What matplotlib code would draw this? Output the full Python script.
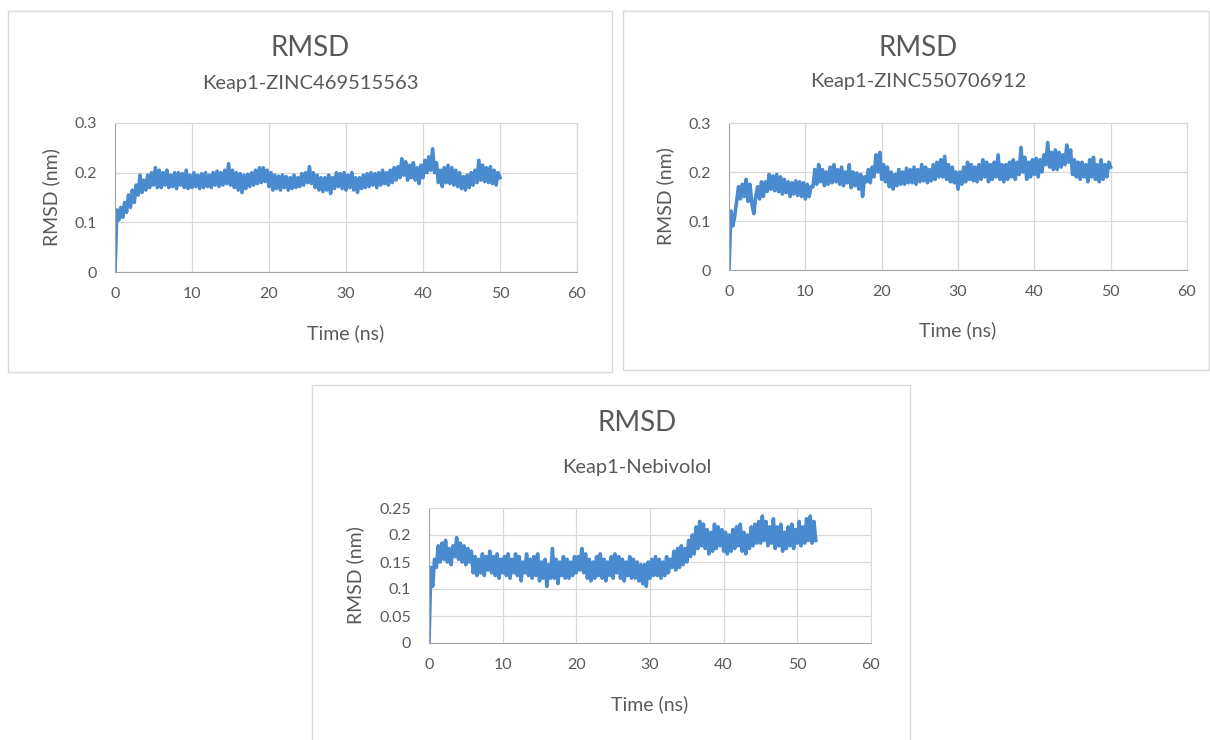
import numpy as np
import matplotlib
matplotlib.use("Agg")
import matplotlib.pyplot as plt
from matplotlib.patches import Rectangle
from matplotlib.ticker import FuncFormatter

# ---------------- DATA ----------------
TIME_STEP = 0.25  # ns between saved frames

titles = ["RMSD", "RMSD", "RMSD"]
subtitles = ["Keap1-ZINC469515563", "Keap1-ZINC550706912", "Keap1-Nebivolol"]

x_ticks = [0, 10, 20, 30, 40, 50, 60]
y_ticks_top = [0, 0.1, 0.2, 0.3]
y_ticks_bottom = [0, 0.05, 0.1, 0.15, 0.2, 0.25]

rmsd_zinc469 = [
    0.0, 0.125, 0.105, 0.13,
    0.11, 0.14, 0.12, 0.155,
    0.13, 0.165, 0.14, 0.175,
    0.155, 0.195, 0.16, 0.185,
    0.165, 0.195, 0.17, 0.2,
    0.175, 0.21, 0.17, 0.205,
    0.17, 0.2, 0.175, 0.205,
    0.17, 0.195, 0.172, 0.2,
    0.168, 0.2, 0.175, 0.198,
    0.17, 0.205, 0.168, 0.195,
    0.17, 0.2, 0.172, 0.195,
    0.168, 0.198, 0.17, 0.2,
    0.172, 0.195, 0.17, 0.2,
    0.175, 0.203, 0.172, 0.2,
    0.175, 0.205, 0.178, 0.218,
    0.175, 0.205, 0.17, 0.2,
    0.165, 0.198, 0.16, 0.195,
    0.168, 0.197, 0.172, 0.2,
    0.175, 0.205, 0.178, 0.21,
    0.18, 0.21, 0.182, 0.205,
    0.172, 0.2, 0.165, 0.195,
    0.168, 0.193, 0.165, 0.195,
    0.17, 0.192, 0.165, 0.19,
    0.168, 0.195, 0.17, 0.19,
    0.172, 0.198, 0.175, 0.2,
    0.18, 0.212, 0.178, 0.2,
    0.17, 0.195, 0.165, 0.19,
    0.162, 0.19, 0.165, 0.195,
    0.158, 0.19, 0.168, 0.2,
    0.172, 0.198, 0.168, 0.2,
    0.165, 0.195, 0.17, 0.2,
    0.165, 0.19, 0.16, 0.19,
    0.168, 0.195, 0.17, 0.198,
    0.172, 0.2, 0.175, 0.198,
    0.17, 0.2, 0.175, 0.205,
    0.178, 0.2, 0.175, 0.205,
    0.18, 0.21, 0.185, 0.212,
    0.19, 0.228, 0.195, 0.222,
    0.185, 0.215, 0.19, 0.22,
    0.185, 0.21, 0.178, 0.215,
    0.19, 0.225, 0.2, 0.232,
    0.205, 0.248, 0.2, 0.22,
    0.18, 0.205, 0.172, 0.21,
    0.18, 0.215, 0.178, 0.21,
    0.175, 0.205, 0.172, 0.2,
    0.168, 0.192, 0.165, 0.195,
    0.17, 0.2, 0.175, 0.205,
    0.18, 0.225, 0.185, 0.215,
    0.182, 0.21, 0.18, 0.212,
    0.178, 0.205, 0.175, 0.2,
    0.19,
]

rmsd_zinc550 = [
    0.0, 0.12, 0.09, 0.11,
    0.14, 0.17, 0.145, 0.175,
    0.15, 0.185, 0.14, 0.175,
    0.135, 0.115, 0.15, 0.17,
    0.145, 0.18, 0.15, 0.18,
    0.16, 0.195, 0.165, 0.192,
    0.162, 0.195, 0.16, 0.19,
    0.155, 0.185, 0.158, 0.18,
    0.15, 0.178, 0.155, 0.182,
    0.152, 0.18, 0.15, 0.178,
    0.145, 0.175, 0.15, 0.17,
    0.17, 0.205, 0.175, 0.215,
    0.18, 0.205, 0.172, 0.2,
    0.175, 0.21, 0.178, 0.215,
    0.18, 0.205, 0.175, 0.21,
    0.172, 0.2, 0.178, 0.215,
    0.168, 0.2, 0.172, 0.198,
    0.165, 0.195, 0.15, 0.19,
    0.18, 0.205, 0.178, 0.21,
    0.19, 0.235, 0.2, 0.24,
    0.185, 0.215, 0.18, 0.21,
    0.17, 0.2, 0.165, 0.195,
    0.172, 0.205, 0.175, 0.2,
    0.175, 0.208, 0.178, 0.205,
    0.178, 0.21, 0.175, 0.205,
    0.18, 0.215, 0.182, 0.21,
    0.178, 0.205, 0.182, 0.215,
    0.185, 0.22, 0.19, 0.225,
    0.19, 0.232, 0.185, 0.215,
    0.18, 0.21, 0.178, 0.2,
    0.165, 0.2, 0.175, 0.21,
    0.18, 0.22, 0.185, 0.215,
    0.182, 0.21, 0.18, 0.215,
    0.185, 0.225, 0.19, 0.22,
    0.18, 0.215, 0.185, 0.22,
    0.19, 0.235, 0.185, 0.215,
    0.18, 0.215, 0.185, 0.22,
    0.19, 0.225, 0.185, 0.22,
    0.195, 0.25, 0.2, 0.23,
    0.185, 0.22, 0.19, 0.225,
    0.195, 0.228, 0.19, 0.225,
    0.2, 0.235, 0.215, 0.26,
    0.21, 0.24, 0.205, 0.245,
    0.205, 0.24, 0.21, 0.235,
    0.215, 0.255, 0.22, 0.245,
    0.195, 0.225, 0.19, 0.22,
    0.185, 0.22, 0.19, 0.215,
    0.18, 0.225, 0.19, 0.23,
    0.185, 0.215, 0.18, 0.225,
    0.185, 0.215, 0.19, 0.22,
    0.21,
]

rmsd_nebivolol = [
    0.0, 0.14, 0.105, 0.155,
    0.14, 0.18, 0.15, 0.185,
    0.155, 0.19, 0.15, 0.175,
    0.145, 0.18, 0.16, 0.195,
    0.155, 0.185, 0.15, 0.18,
    0.145, 0.175, 0.15, 0.17,
    0.13, 0.16, 0.125, 0.155,
    0.13, 0.165, 0.125, 0.16,
    0.135, 0.17, 0.13, 0.16,
    0.125, 0.165, 0.12, 0.155,
    0.13, 0.16, 0.125, 0.165,
    0.12, 0.155, 0.13, 0.165,
    0.125, 0.16, 0.115, 0.15,
    0.13, 0.165, 0.125, 0.155,
    0.12, 0.16, 0.125, 0.165,
    0.115, 0.15, 0.12, 0.155,
    0.105, 0.145, 0.12, 0.175,
    0.12, 0.155, 0.11, 0.15,
    0.125, 0.16, 0.12, 0.155,
    0.12, 0.15, 0.125, 0.16,
    0.13, 0.16, 0.135, 0.175,
    0.13, 0.165, 0.12, 0.155,
    0.115, 0.15, 0.12, 0.16,
    0.125, 0.165, 0.12, 0.155,
    0.115, 0.15, 0.125, 0.16,
    0.12, 0.165, 0.13, 0.16,
    0.12, 0.155, 0.115, 0.15,
    0.125, 0.16, 0.12, 0.155,
    0.12, 0.15, 0.115, 0.145,
    0.11, 0.145, 0.105, 0.15,
    0.12, 0.155, 0.125, 0.16,
    0.125, 0.155, 0.12, 0.15,
    0.125, 0.16, 0.13, 0.155,
    0.14, 0.17, 0.135, 0.175,
    0.14, 0.18, 0.145, 0.175,
    0.15, 0.19, 0.16, 0.2,
    0.165, 0.215, 0.175, 0.225,
    0.18, 0.22, 0.175, 0.21,
    0.165, 0.205, 0.17, 0.22,
    0.175, 0.215, 0.18, 0.21,
    0.17, 0.205, 0.165, 0.2,
    0.17, 0.21, 0.175, 0.215,
    0.18, 0.22, 0.17, 0.205,
    0.165, 0.2, 0.175, 0.215,
    0.18, 0.22, 0.185, 0.225,
    0.185, 0.235, 0.19, 0.225,
    0.18, 0.215, 0.185, 0.23,
    0.175, 0.215, 0.18, 0.22,
    0.17, 0.205, 0.175, 0.215,
    0.18, 0.22, 0.175, 0.21,
    0.185, 0.225, 0.18, 0.215,
    0.185, 0.23, 0.19, 0.235,
    0.185, 0.225, 0.19,
]
# --------------------------------------

W, H = 1210, 740
LINE_COLOR = "#4A8BD0"
TEXT_COLOR = "#595959"
plt.rcParams["font.family"] = ["Lato", "DejaVu Sans"]

fig = plt.figure(figsize=(W / 100, H / 100), dpi=100)
fig.patch.set_facecolor("white")


def fx(x):
    return x / W


def fy(y):
    return 1 - y / H


def panel(box, axes_px, title_xy, sub_xy, xlabel_xy, ylabel_xy,
          values, yticks, title, subtitle):
    # chart area border
    bx0, by0, bx1, by1 = box
    fig.add_artist(Rectangle((fx(bx0), fy(by1)), fx(bx1 - bx0), (by1 - by0) / H,
                             transform=fig.transFigure, fill=False,
                             edgecolor="#d9d9d9", linewidth=1.0))
    l, t, r, b = axes_px
    ax = fig.add_axes([fx(l), fy(b), fx(r - l), (b - t) / H])
    t_vals = np.arange(len(values)) * TIME_STEP
    ax.plot(t_vals, values, color=LINE_COLOR, linewidth=2.6, solid_joinstyle="round")
    ax.set_xlim(0, 60)
    ax.set_ylim(yticks[0], yticks[-1])
    ax.set_xticks(x_ticks)
    ax.set_yticks(yticks)
    ax.yaxis.set_major_formatter(FuncFormatter(lambda v, p: f"{v:g}"))
    ax.grid(True, color="#d9d9d9", linewidth=0.9)
    ax.set_axisbelow(True)
    for side in ["top", "right"]:
        ax.spines[side].set_color("#d9d9d9")
    for side in ["left", "bottom"]:
        ax.spines[side].set_color("#a6a6a6")
    ax.tick_params(length=0, labelsize=11.5, colors=TEXT_COLOR)
    ax.tick_params(axis="y", pad=13)
    ax.tick_params(axis="x", pad=11)
    fig.text(fx(title_xy[0]), fy(title_xy[1]), title, ha="center", va="center",
             fontsize=20, color=TEXT_COLOR)
    fig.text(fx(sub_xy[0]), fy(sub_xy[1]), subtitle, ha="center", va="center",
             fontsize=14.5, color=TEXT_COLOR)
    fig.text(fx(xlabel_xy[0]), fy(xlabel_xy[1]), "Time (ns)", ha="center", va="center",
             fontsize=14, color=TEXT_COLOR)
    fig.text(fx(ylabel_xy[0]), fy(ylabel_xy[1]), "RMSD (nm)", ha="center", va="center",
             fontsize=14, color=TEXT_COLOR, rotation=90)
    return ax


panel((8, 11, 612, 372), (115, 123, 577, 272), (310, 48), (310, 83), (346, 333), (51, 197),
      rmsd_zinc469, y_ticks_top, titles[0], subtitles[0])
panel((623, 11, 1209, 370), (729, 123, 1187, 270), (918, 48), (918, 82), (958, 330), (665, 196),
      rmsd_zinc550, y_ticks_top, titles[1], subtitles[1])
panel((312, 385, 910, 745), (429, 508, 871, 643), (637, 423), (637, 467), (650, 704), (355, 575),
      rmsd_nebivolol, y_ticks_bottom, titles[2], subtitles[2])

fig.savefig("out.png", dpi=100, facecolor="white")
